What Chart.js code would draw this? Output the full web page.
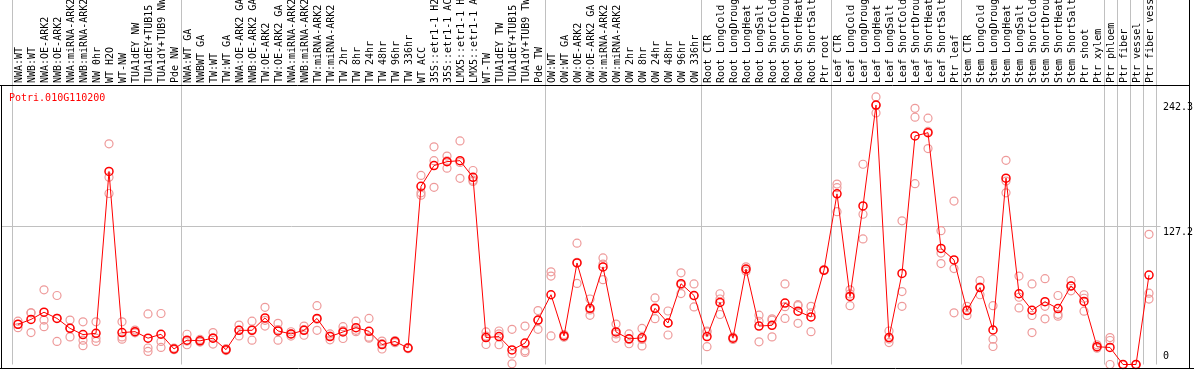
<!DOCTYPE html>
<html><head><meta charset="utf-8">
<script src="https://cdn.jsdelivr.net/npm/chart.js@4.4.1/dist/chart.umd.min.js"></script>
<style>html,body{margin:0;padding:0;background:#fff;overflow:hidden}#wrap{width:1194px;height:370px;position:relative}</style>
</head><body><div id="wrap"><canvas id="c" width="1194" height="370"></canvas></div>
<script>
const geneName = 'Potri.010G110200';
const categories = [
 'NWA:WT','NWB:WT','NWA:OE-ARK2','NWB:OE-ARK2','NWA:miRNA-ARK2','NWB:miRNA-ARK2','NW 0hr','WT H2O','WT-NW',
 'TUA1dEY NW','TUA1dEY+TUB15','TUA1dY+TUB9 NW','Pde NW',
 'NWA:WT GA','NWBWT GA','TW:WT','TW:WT GA','NWA:OE-ARK2 GA','NWB:OE-ARK2 GA','TW:OE-ARK2','TW:OE-ARK2 GA',
 'NWA:miRNA-ARK2','NWB:miRNA-ARK2','TW:miRNA-ARK2','TW:miRNA-ARK2','TW 2hr','TW 8hr','TW 24hr','TW 48hr','TW 96hr','TW 336hr',
 'WT ACC','35S::etr1-1 H2','35S::etr1-1 AC','LMX5::etr1-1 H','LMX5::etr1-1 A','WT-TW','TUA1dEY TW','TUA1dEY+TUB15','TUA1dY+TUB9 TW','Pde TW',
 'OW:WT','OW:WT GA','OW:OE-ARK2','OW:OE-ARK2 GA','OW:miRNA-ARK2','OW:miRNA-ARK2','OW 2hr','OW 8hr','OW 24hr','OW 48hr','OW 96hr','OW 336hr',
 'Root CTR','Root LongCold','Root LongDroug','Root LongHeat','Root LongSalt','Root ShortCold','Root ShortDrou','Root ShortHeat','Root ShortSalt','Ptr root',
 'Leaf CTR','Leaf LongCold','Leaf LongDroug','Leaf LongHeat','Leaf LongSalt','Leaf ShortCold','Leaf ShortDrou','Leaf ShortHeat','Leaf ShortSalt','Ptr leaf',
 'Stem CTR','Stem LongCold','Stem LongDroug','Stem LongHeat','Stem LongSalt','Stem ShortCold','Stem ShortDrou','Stem ShortHeat','Stem ShortSalt',
 'Ptr shoot','Ptr xylem','Ptr phloem','Ptr fiber','Ptr vessel','Ptr fiber vess'
];
const meanValues = [
 36.8,41.3,47.9,42.2,33.1,27.4,28.6,176.8,29.2,30.1,24.1,27.7,14.2,
 22.3,21.7,24.1,13.6,31.3,31.3,42.7,30.7,28.0,31.3,42.2,25.6,29.8,33.7,30.4,18.3,21.1,15.1,
 163.2,182.2,185.8,186.7,171.4,24.7,25.6,13.3,19.6,40.7,
 63.9,26.2,93.0,51.5,89.4,29.8,23.5,24.4,51.5,38.0,74.0,63.2,
 25.6,56.9,24.1,87.4,35.2,35.9,56.3,48.8,43.6,86.4,
 156.3,62.3,145.2,237.6,24.7,83.4,209.3,212.3,106.3,95.8,
 49.4,70.5,31.6,170.7,64.8,49.7,57.5,51.2,72.0,
 57.8,16.3,15.6,0,0,81.9
];
const rep1 = [
 39.7,47.3,68.4,63.2,40.7,39.1,39.1,202.1,39.1,31.5,46.3,46.7,15.0,
 27.7,23.0,29.2,14.5,36.1,39.7,52.4,37.7,30.0,35.2,53.9,28.0,34.6,39.7,42.2,21.5,22.0,15.5,
 173.2,199.4,190.9,204.8,177.7,29.8,30.7,32.2,35.2,49.4,
 84.9,27.5,111.1,60.0,97.6,37.0,28.0,33.0,61.0,49.0,84.0,73.8,
 30.7,64.8,25.0,89.5,45.2,41.8,73.8,53.9,53.3,86.0,
 165.3,68.4,183.4,245.1,30.7,131.6,234.6,225.6,122.6,149.7,
 53.3,76.8,53.9,187.0,81.0,73.8,78.6,63.2,76.8,
 63.9,18.0,24.7,0,0,119.2
];
const rep2 = [
 33.7,29.2,40.7,21.1,25.3,22.3,24.1,171.6,25.3,29.0,15.1,21.1,13.5,
 18.1,20.5,18.7,12.8,26.2,22.3,35.2,22.3,26.0,26.8,31.3,22.6,23.8,31.3,24.1,14.2,20.0,14.5,
 157.2,186.7,179.8,170.5,167.7,18.3,18.1,9.7,12.5,32.2,
 81.0,25.0,74.3,45.0,77.7,24.0,19.0,17.0,42.0,27.0,65.0,52.7,
 16.3,45.8,23.0,85.5,20.8,25.3,42.2,37.7,30.1,87.0,
 162.0,53.9,137.6,230.4,20.1,66.8,226.5,197.8,102.1,87.9,
 44.9,63.9,23.2,157.2,51.8,44.9,53.3,44.3,67.5,
 48.8,15.0,0,0,0,65.3
];
const rep3 = [
 36.8,47.4,34.6,42.3,33.3,17.2,21.1,156.6,23.2,29.8,12.0,15.6,14.0,
 21.5,21.6,24.4,13.5,31.5,32.0,40.5,32.0,28.0,32.0,41.5,26.0,31.0,30.1,25.0,19.2,21.3,15.3,
 155.1,162.3,186.5,185.0,168.8,26.0,28.0,0.6,11.1,40.5,
 26.2,26.0,93.6,50.0,92.0,28.0,23.0,23.0,51.0,38.0,73.0,63.0,
 29.8,60.0,24.3,87.2,39.6,40.6,53.0,54.8,47.4,86.2,
 140.0,64.6,115.0,237.3,23.3,53.3,165.6,213.5,92.4,47.3,
 50.0,70.8,16.5,168.0,61.6,29.2,41.8,46.0,71.7,
 60.7,16.0,22.0,0,0,59.9
];
const groupStarts = [0,13,41,53,63,73,84,85,86,87];
const yTickValues = [0,127.2,242.3];
const gridValues = [127.2];
const yMax = 256;

const RED = '#ff0000';
const PINK = '#ee9a9a';
const MONO = '"DejaVu Sans Mono", "Liberation Mono", monospace';

const decor = {
  id: 'decor',
  beforeDatasetsDraw(chart) {
    const {ctx, chartArea: a, scales: {x, y}} = chart;
    ctx.save();
    ctx.strokeStyle = '#c0c0c0';
    ctx.lineWidth = 1;
    const xs = groupStarts.map(i => i === 0 ? a.left : (x.getPixelForValue(i - 1) + x.getPixelForValue(i)) / 2);
    xs.push(a.right);
    ctx.beginPath();
    xs.forEach(px => { const p = Math.round(px) + 0.5; ctx.moveTo(p, 0); ctx.lineTo(p, a.bottom); });
    gridValues.forEach(v => { const p = Math.round(y.getPixelForValue(v)) + 0.5; ctx.moveTo(2, p); ctx.lineTo(a.right + 5, p); });
    ctx.stroke();
    ctx.restore();
  },
  afterDraw(chart) {
    const {ctx, chartArea: a, scales: {y}} = chart;
    ctx.save();
    ctx.strokeStyle = '#000';
    ctx.lineWidth = 1;
    ctx.beginPath();
    ctx.moveTo(0, 85.5); ctx.lineTo(1190, 85.5);
    ctx.moveTo(1.5, 85); ctx.lineTo(1.5, 369);
    ctx.moveTo(0, 368.5); ctx.lineTo(1194, 368.5);
    ctx.moveTo(1189.5, 0); ctx.lineTo(1189.5, 369);
    ctx.stroke();
    ctx.font = '10px ' + MONO;
    ctx.fillStyle = RED;
    ctx.textBaseline = 'alphabetic';
    ctx.textAlign = 'left';
    ctx.fillText(geneName, 9, 101);
    ctx.fillStyle = '#000';
    yTickValues.forEach((v, k) => {
      const p = y.getPixelForValue(v);
      let ty;
      if (k === 0) ty = p - 6; else if (k === yTickValues.length - 1) ty = p + 10; else ty = p + 9;
      ctx.fillText(String(v), 1163, ty);
    });
    ctx.restore();
  }
};

const repDs = (data, label) => ({
  label, data, showLine: false, borderColor: PINK, backgroundColor: 'rgba(0,0,0,0)',
  pointRadius: 4, pointBorderWidth: 1.2, pointHoverRadius: 4, order: 2, clip: false
});

new Chart(document.getElementById('c'), {
  type: 'line',
  data: {
    labels: categories,
    datasets: [
      {label: 'mean', data: meanValues, borderColor: RED, borderWidth: 1, backgroundColor: 'rgba(0,0,0,0)',
       pointRadius: 4, pointBorderWidth: 1.5, pointBorderColor: RED, pointBackgroundColor: 'rgba(0,0,0,0)', tension: 0, order: 1, clip: false},
      repDs(rep1, 'rep1'), repDs(rep2, 'rep2'), repDs(rep3, 'rep3')
    ]
  },
  plugins: [decor],
  options: {
    responsive: false, animation: false, devicePixelRatio: 1,
    layout: {padding: {left: 11.5, right: 38.5, top: 0, bottom: 1}},
    plugins: {legend: {display: false}, tooltip: {enabled: false}, title: {display: false}},
    scales: {
      x: {
        type: 'category', position: 'top', offset: true,
        grid: {display: false, drawTicks: false}, border: {display: false},
        ticks: {autoSkip: false, maxRotation: 90, minRotation: 90, padding: 2, labelOffset: 13, color: '#000',
                font: {family: MONO, size: 10}},
        afterFit: s => { s.height = 85; }
      },
      y: {display: false, min: 0, max: yMax}
    }
  }
});
</script></body></html>
